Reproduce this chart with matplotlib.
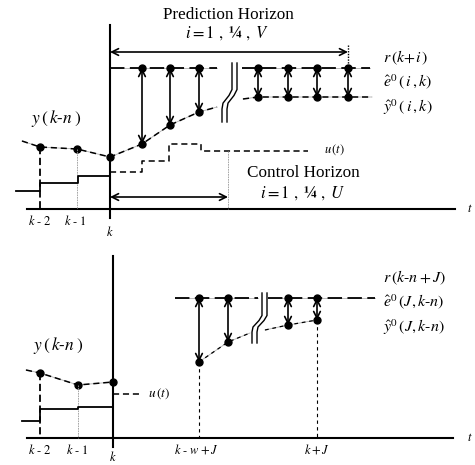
import matplotlib.pyplot as plt

plt.rcParams["font.family"] = ["Liberation Serif", "DejaVu Serif"]
plt.rcParams["mathtext.fontset"] = "stix"

# ---- top panel (prediction over the horizon) ----
top_axis_y = 209
top_k_x = 110
top_past_x = [22, 40, 77, 110]
top_past_y = [141, 147, 149, 157]
top_ref_y = 68
top_pred_x = [142, 170, 199, 258, 288, 317, 348]
top_pred_y = [144, 125, 112, 97, 97, 97, 97]
top_u_past_x = [16, 40, 40, 78, 78, 110]
top_u_past_y = [191, 191, 183, 183, 176, 176]
top_u_fut_x = [110, 142, 142, 169, 169, 201, 201, 308]
top_u_fut_y = [172, 172, 161, 161, 144, 144, 151, 151]
top_break_x = 232
top_pred_horizon = (110, 348)
top_ctrl_horizon = (110, 228)

# ---- bottom panel (single point J) ----
bot_axis_y = 438
bot_k_x = 113
bot_past_x = [26, 40, 78, 113]
bot_past_y = [370, 373, 385, 382]
bot_ref_y = 298
bot_pred_x = [199, 228, 288, 317]
bot_pred_y = [362, 342, 325, 320]
bot_u_past_x = [22, 40, 40, 78, 78, 113]
bot_u_past_y = [421, 421, 409, 409, 407, 407]
bot_break_x = 262

fig = plt.figure(figsize=(4.75, 4.65), dpi=100)
ax = fig.add_axes([0, 0, 1, 1])
ax.set_xlim(0, 475)
ax.set_ylim(465, 0)
ax.axis("off")

MS = 5


def dashed(xs, ys, lw=1.1, dash=(4, 2.5)):
    ax.plot(xs, ys, color="#b0b0b0", lw=0.6)
    ax.plot(xs, ys, color="black", lw=lw, dashes=dash)


def dbl_arrow(x0, y0, x1, y1, lw=1.2):
    ax.annotate("", xy=(x1, y1), xytext=(x0, y0),
                arrowprops=dict(arrowstyle="<->", lw=lw, color="black",
                                shrinkA=0, shrinkB=0, mutation_scale=12))


def break_mark(x, y0, y1):
    h = y1 - y0
    for dx in (0, 5):
        xs = [x + dx, x + dx, x + dx - 3, x + dx - 9, x + dx - 10, x + dx - 10]
        ys = [y0, y0 + 0.45 * h, y0 + 0.55 * h, y0 + 0.68 * h, y0 + 0.78 * h, y1]
        ax.plot(xs, ys, color="black", lw=1.0)


# ================= TOP =================
ax.plot([27, 455], [top_axis_y] * 2, color="black", lw=1.5)
ax.plot([top_k_x] * 2, [25, 218], color="black", lw=1.5)

# past output
dashed(top_past_x + top_pred_x[:3] + [217], top_past_y + top_pred_y[:3] + [107])
dashed([243] + top_pred_x[3:] + [372], [99] + top_pred_y[3:] + [97])
ax.plot(top_past_x[1:], top_past_y[1:], "o", color="black", ms=MS)
ax.plot([40, 40], [147, top_axis_y], color="black", lw=1.3, dashes=(4, 2))
ax.plot([77, 77], [149, top_axis_y], color="#999999", lw=0.6, dashes=(2, 1))

# reference line
dashed([110, 217], [top_ref_y] * 2, lw=1.3, dash=(8, 3))
dashed([242, 370], [top_ref_y] * 2, lw=1.3, dash=(8, 3))
ax.plot(top_pred_x, [top_ref_y] * len(top_pred_x), "o", color="black", ms=MS)
ax.plot(top_pred_x, top_pred_y, "o", color="black", ms=MS)
for x, y in zip(top_pred_x, top_pred_y):
    dbl_arrow(x, top_ref_y, x, y)
break_mark(top_break_x, 63, 122)

# control signal
ax.plot(top_u_past_x, top_u_past_y, color="black", lw=1.3)
ax.plot(top_u_fut_x, top_u_fut_y, color="black", lw=1.1, dashes=(4, 2.5))

# horizons
dbl_arrow(top_pred_horizon[0], 52, top_pred_horizon[1], 52)
ax.plot([348, 348], [45, 68], color="black", lw=1.0, dashes=(1, 1))
dbl_arrow(top_ctrl_horizon[0], 197, top_ctrl_horizon[1], 197)
ax.plot([228, 228], [151, top_axis_y], color="#999999", lw=0.6, dashes=(2, 1))

ax.text(228, 15, "Prediction Horizon", fontsize=12.3, ha="center", va="center")
ax.text(227, 33, r"$i = 1\ ,\ \mathbf{¼}\ ,\ V$", fontsize=12, ha="center", va="center")
ax.text(303, 173, "Control Horizon", fontsize=12.3, ha="center", va="center")
ax.text(303, 193, r"$i = 1\ ,\ \mathbf{¼}\ ,\ U$", fontsize=12, ha="center", va="center")

ax.text(383, 58, r"$r\,(k\!+\!i\,)$", fontsize=11.5, ha="left", va="center")
ax.text(383, 82, r"$\hat{e}^0\,(\,i\,,k)$", fontsize=11.5, ha="left", va="center")
ax.text(383, 107, r"$\hat{y}^0\,(\,i\,,k)$", fontsize=11.5, ha="left", va="center")
ax.text(56, 118, r"$y\,(\,k\text{-}n\;)$", fontsize=12.5, ha="center", va="center")
ax.text(324, 150, r"$u\,(t)$", fontsize=9, ha="left", va="center")

ax.text(40, 221, r"$k\text{ - }2$", fontsize=9, ha="center", va="center")
ax.text(75, 221, r"$k\text{ - }1$", fontsize=9, ha="center", va="center")
ax.text(110, 232, r"$k$", fontsize=9, ha="center", va="center")
ax.text(467, 209, r"$t$", fontsize=9, ha="left", va="center")

# ================= BOTTOM =================
ax.plot([27, 453], [bot_axis_y] * 2, color="black", lw=1.5)
ax.plot([bot_k_x] * 2, [256, 447], color="black", lw=1.5)

dashed(bot_past_x, bot_past_y)
ax.plot(bot_past_x[1:], bot_past_y[1:], "o", color="black", ms=MS)
ax.plot([40, 40], [373, bot_axis_y], color="black", lw=1.3, dashes=(4, 2))
ax.plot([78, 78], [385, bot_axis_y], color="#999999", lw=0.6, dashes=(2, 1))

ax.plot(bot_u_past_x, bot_u_past_y, color="black", lw=1.3)
ax.plot([113, 142], [394, 394], color="black", lw=1.1, dashes=(4, 2.5))

dashed([175, 258], [bot_ref_y] * 2, lw=1.3, dash=(8, 3))
dashed([268, 375], [bot_ref_y] * 2, lw=1.3, dash=(8, 3))
dashed(bot_pred_x[:2] + [250], bot_pred_y[:2] + [333], lw=0.9, dash=(3, 3))
dashed([265] + bot_pred_x[2:], [330] + bot_pred_y[2:], lw=0.9, dash=(3, 3))
ax.plot(bot_pred_x, [bot_ref_y] * len(bot_pred_x), "o", color="black", ms=MS)
ax.plot(bot_pred_x, bot_pred_y, "o", color="black", ms=MS)
for x, y in zip(bot_pred_x, bot_pred_y):
    dbl_arrow(x, bot_ref_y, x, y)
break_mark(bot_break_x, 293, 343)
ax.plot([199, 199], [362, bot_axis_y], color="black", lw=0.8, dashes=(3, 3))
ax.plot([317, 317], [320, bot_axis_y], color="black", lw=0.8, dashes=(3, 3))

ax.text(383, 278, r"$r\,(k\text{-}n+J)$", fontsize=11.5, ha="left", va="center")
ax.text(383, 302, r"$\hat{e}^0\,(J,k\text{-}n)$", fontsize=11.5, ha="left", va="center")
ax.text(383, 327, r"$\hat{y}^0\,(J,k\text{-}n)$", fontsize=11.5, ha="left", va="center")
ax.text(58, 345, r"$y\,(\,k\text{-}n\;)$", fontsize=12.5, ha="center", va="center")
ax.text(148, 394, r"$u\,(t)$", fontsize=9.5, ha="left", va="center")

ax.text(40, 450, r"$k\text{ - }2$", fontsize=9, ha="center", va="center")
ax.text(77, 450, r"$k\text{ - }1$", fontsize=9, ha="center", va="center")
ax.text(113, 457, r"$k$", fontsize=9, ha="center", va="center")
ax.text(196, 450, r"$k\text{ - }w+J$", fontsize=9, ha="center", va="center")
ax.text(317, 450, r"$k+J$", fontsize=9, ha="center", va="center")
ax.text(467, 438, r"$t$", fontsize=9, ha="left", va="center")

fig.savefig("out.png", dpi=100)
